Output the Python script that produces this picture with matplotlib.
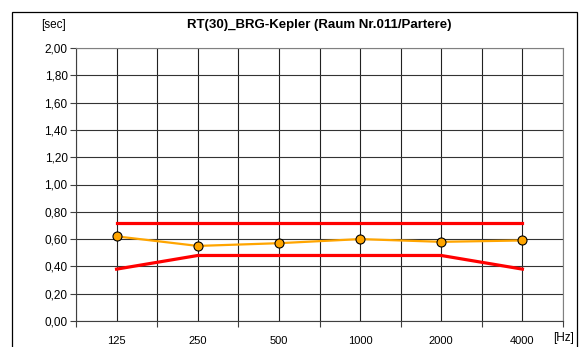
import numpy as np
import matplotlib.pyplot as plt
from matplotlib.patches import Rectangle

freqs = ['125', '250', '500', '1000', '2000', '4000']
rt30 = [0.62, 0.55, 0.57, 0.60, 0.58, 0.59]
upper_limit = [0.72, 0.72, 0.72, 0.72, 0.72, 0.72]
lower_limit = [0.38, 0.48, 0.48, 0.48, 0.48, 0.38]
y_ticks = [0.0, 0.2, 0.4, 0.6, 0.8, 1.0, 1.2, 1.4, 1.6, 1.8, 2.0]

plt.rcParams['font.family'] = ['Liberation Sans', 'DejaVu Sans']

fig = plt.figure(figsize=(5.84, 3.47), dpi=100)
fig.patches.append(Rectangle((12 / 584, -0.1), 565 / 584, 1.1 - 12 / 347,
                             transform=fig.transFigure, fill=False,
                             edgecolor='black', linewidth=0.9))

ax = fig.add_axes([76 / 584, 26 / 347, 487 / 584, 273 / 347])
x = np.arange(len(freqs)) + 0.5

ax.plot(x, upper_limit, color='#ff0000', linewidth=2.3, zorder=3)
ax.plot(x, lower_limit, color='#ff0000', linewidth=2.3, zorder=3)
ax.plot(x, rt30, color='#ffa500', linewidth=1.6, marker='o', markersize=6.5,
        markerfacecolor='#ffa500', markeredgecolor='black', markeredgewidth=0.8,
        zorder=4)

ax.set_xlim(0, len(freqs))
ax.set_ylim(0, 2.0)
ax.set_xticks(np.arange(len(freqs) + 1))
ax.set_xticklabels([])
ax.set_xticks(x, minor=True)
ax.set_xticklabels(freqs, minor=True)
ax.tick_params(axis='x', which='major', length=4, width=0.8, color='#404040')
ax.tick_params(axis='x', which='minor', length=0, pad=11, labelsize=8)
ax.set_yticks(y_ticks)
ax.set_yticklabels([f'{v:.2f}'.replace('.', ',') for v in y_ticks])
ax.tick_params(axis='y', length=4, width=0.8, color='#404040', labelsize=8.5, pad=2)

ax.grid(True, which='both', axis='x', color='#222222', linewidth=0.8)
ax.grid(True, which='major', axis='y', color='#333333', linewidth=0.8)
ax.set_axisbelow(True)

for s in ['top', 'right']:
    ax.spines[s].set_color('#808080')
for s in ['left', 'bottom']:
    ax.spines[s].set_color('#404040')

fig.text(319 / 584, 1 - 25 / 347, 'RT(30)_BRG-Kepler (Raum Nr.011/Partere)',
         ha='center', va='center', fontsize=9.5, fontweight='bold')
fig.text(53 / 584, 1 - 25 / 347, '[sec]', ha='center', va='center', fontsize=8.5)
fig.text(564 / 584, 1 - 338 / 347, '[Hz]', ha='center', va='center', fontsize=8.5)

fig.savefig('out.png', dpi=100)
